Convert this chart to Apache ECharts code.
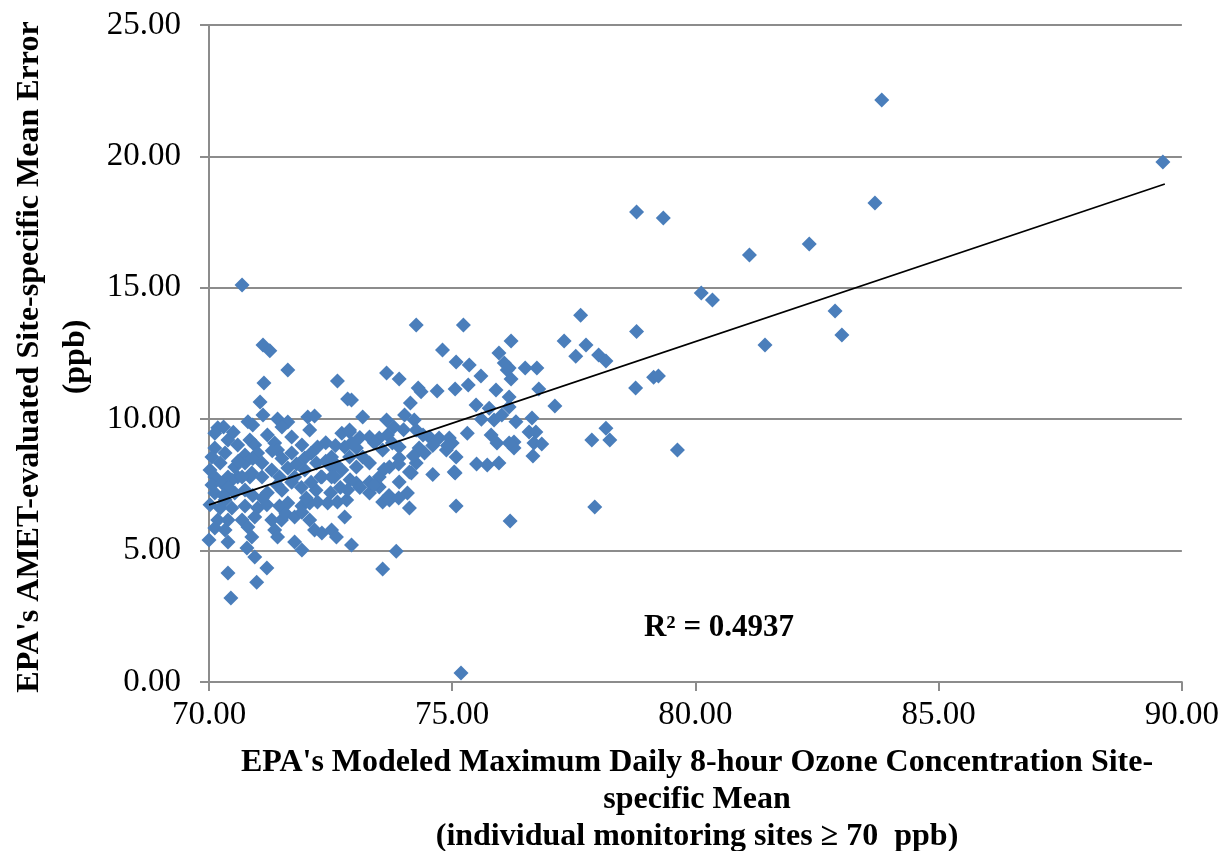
<!DOCTYPE html>
<html>
<head>
<meta charset="utf-8">
<script src="https://cdn.jsdelivr.net/npm/echarts@6/dist/echarts.min.js"></script>
<style>
  html, body { margin: 0; padding: 0; background: #fff; }
  #chart { width: 1222px; height: 851px; }
</style>
</head>
<body>
<div id="chart"></div>
<script>
// site-specific means: [modeled MDA8 ozone (ppb), AMET mean error (ppb)]
var outerSites = [
    [83.83, 22.15], [89.61, 19.79], [83.69, 18.23], [82.34, 16.67], [81.11, 16.25],
    [80.12, 14.80], [80.35, 14.54], [82.87, 14.12], [83.01, 13.20], [81.43, 12.82],
    [78.79, 17.88], [79.34, 17.66], [77.64, 13.96], [77.30, 12.98], [77.75, 12.82],
    [77.54, 12.40], [78.01, 12.44], [78.16, 12.21], [78.79, 13.34], [78.77, 11.19],
    [79.14, 11.60], [79.24, 11.64], [77.87, 9.21], [78.16, 9.66], [78.24, 9.21],
    [79.63, 8.83], [77.93, 6.66], [76.19, 6.13], [75.08, 6.70], [75.18, 0.34],
    [70.68, 15.11]
];
var midSites = [
    [76.21, 12.98], [76.50, 11.95], [76.74, 11.95], [76.17, 11.95], [76.21, 11.53],
    [76.78, 11.15], [77.11, 10.50], [76.17, 10.84], [76.17, 10.46], [76.64, 10.05],
    [76.31, 9.90], [76.58, 9.51], [76.72, 9.51], [76.27, 9.13], [76.27, 8.90],
    [76.68, 9.09], [76.84, 9.06], [76.66, 8.60],
    [74.26, 13.58], [75.23, 13.58], [74.80, 12.63], [75.96, 12.52], [75.08, 12.18],
    [75.35, 12.06], [76.07, 12.14], [76.13, 11.87], [73.65, 11.76], [73.91, 11.53],
    [75.59, 11.64], [74.30, 11.19], [74.36, 11.04], [74.69, 11.07], [75.06, 11.15],
    [75.33, 11.30], [75.90, 11.11], [74.14, 10.62], [75.49, 10.54], [75.76, 10.42],
    [72.93, 10.73], [73.16, 10.08], [73.65, 9.97], [74.02, 10.16], [74.22, 9.97],
    [75.86, 9.97], [76.02, 10.16], [74.26, 9.59], [75.31, 9.47], [72.89, 9.51],
    [73.30, 9.32], [73.50, 9.28], [73.67, 9.40], [73.77, 9.09], [73.91, 8.94],
    [74.53, 9.32], [74.73, 9.28], [74.94, 9.28], [75.00, 9.09], [75.92, 9.09],
    [76.17, 9.09], [73.03, 8.90], [73.16, 8.56], [74.32, 8.90], [74.43, 8.71],
    [74.88, 8.83], [75.08, 8.56], [73.57, 8.83], [73.91, 8.52], [75.72, 8.26],
    [75.96, 8.33], [73.30, 8.33], [73.71, 8.18], [74.26, 8.33], [74.12, 7.99],
    [75.04, 7.99], [72.89, 8.56], [73.03, 8.18], [75.06, 7.95], [72.93, 5.21],
    [73.85, 4.98], [73.57, 4.30], [74.12, 6.62], [74.08, 7.19], [73.57, 6.85],
    [73.71, 6.93], [73.03, 7.57], [73.30, 7.19], [73.50, 7.42], [73.91, 7.61],
    [74.16, 7.95], [73.30, 7.60], [73.50, 7.80], [72.90, 7.70], [73.10, 7.40],
    [73.40, 7.50], [73.70, 7.10], [73.90, 7.00], [73.60, 8.10], [73.90, 8.30],
    [74.20, 8.60], [74.60, 9.00], [74.40, 9.40], [74.00, 9.60], [73.80, 9.70],
    [73.40, 9.10], [73.10, 9.30], [74.60, 7.90], [74.90, 9.00], [75.50, 8.30],
    [75.80, 9.40], [75.60, 10.00]
];
var lowSites = [
    [71.11, 12.82], [71.25, 12.60], [71.62, 11.87], [71.13, 11.38], [72.64, 11.45],
    [72.85, 10.77], [71.05, 10.65], [71.11, 10.16], [70.90, 9.78], [70.18, 9.67],
    [70.12, 9.47], [71.41, 10.01], [71.62, 9.89], [72.03, 10.08], [72.17, 10.12],
    [72.07, 9.59], [71.70, 9.32], [70.39, 9.21], [70.59, 9.02], [70.84, 9.21],
    [70.94, 9.02], [71.35, 9.09], [71.41, 8.83], [71.91, 9.02], [72.73, 9.47],
    [72.89, 9.59], [70.12, 8.90], [70.06, 8.56], [70.33, 8.71], [70.74, 8.64],
    [71.00, 8.71], [71.70, 8.71], [71.97, 8.52], [72.23, 8.94], [72.52, 8.56],
    [72.79, 8.94], [72.93, 9.09], [70.02, 8.07], [70.23, 8.33], [70.53, 8.18],
    [70.74, 8.33], [71.09, 8.33], [71.29, 8.07], [71.62, 8.14], [71.97, 8.07],
    [72.21, 8.33], [72.52, 8.18], [72.73, 8.07], [70.12, 7.80], [70.39, 7.80],
    [70.59, 7.80], [70.84, 7.80], [71.09, 7.80], [71.45, 7.80], [71.76, 7.80],
    [72.30, 7.80], [72.52, 7.80], [70.06, 7.50], [70.27, 7.57], [70.47, 7.69],
    [70.68, 7.80], [70.88, 7.95], [70.12, 7.19], [70.33, 6.93], [70.53, 7.19],
    [70.74, 7.31], [70.02, 6.74], [70.23, 6.62], [70.47, 6.62], [70.74, 6.70],
    [71.00, 6.62], [71.19, 6.74], [71.45, 6.70], [71.62, 6.81], [71.91, 6.70],
    [72.07, 6.81], [72.23, 6.85], [72.44, 6.81], [72.64, 6.85], [72.83, 6.93],
    [72.32, 7.80], [72.58, 7.80], [72.85, 7.31], [70.18, 6.16], [70.39, 6.16],
    [70.68, 6.16], [70.94, 6.28], [71.29, 6.16], [71.49, 6.16], [71.58, 6.40],
    [71.76, 6.28], [71.91, 6.46], [72.07, 6.16], [72.79, 6.28], [70.12, 5.86],
    [70.33, 5.78], [70.80, 5.90], [71.35, 5.78], [71.41, 5.52], [70.88, 5.52],
    [70.00, 5.40], [70.39, 5.33], [72.17, 5.78], [72.32, 5.67], [72.52, 5.78],
    [72.62, 5.52], [71.76, 5.33], [71.91, 5.02], [70.78, 5.10], [70.94, 4.76],
    [70.39, 4.15], [71.19, 4.34], [70.98, 3.80], [70.45, 3.20],
    [72.70, 7.40], [72.50, 7.20], [72.20, 7.30], [71.90, 7.40], [71.50, 7.30],
    [71.20, 7.20], [70.90, 7.10], [71.70, 7.60], [72.00, 7.00], [71.10, 7.00],
    [71.40, 7.50], [72.10, 7.60], [72.40, 8.40], [72.60, 8.30], [71.80, 8.30],
    [71.50, 8.50], [70.90, 8.50], [70.60, 8.40], [70.40, 7.40], [70.30, 7.10],
    [72.60, 9.00], [72.40, 9.10], [72.10, 8.70], [71.30, 8.80], [71.20, 9.40],
    [70.50, 9.50], [70.30, 9.70], [70.80, 9.90], [71.50, 9.70]
];
// linear trend line as drawn in the original (start / end)
var trendX = [70.0, 89.65];
var trendY = [6.74, 18.95];
var rSquared = "0.4937";

var xTicks = [70, 75, 80, 85, 90];
var yTicks = [0, 5, 10, 15, 20, 25];

var sites = outerSites.concat(midSites, lowSites);
var trend = trendX.map(function (x, i) { return [x, trendY[i]]; });

var serif = "'Liberation Serif', 'Times New Roman', serif";
var gridColor = "#8c8c8c";

var myChart = echarts.init(document.getElementById("chart"));
var option = {
    animation: false,
    backgroundColor: "#fff",
    grid: { left: 209, right: 37, top: 25, bottom: 169 },
    xAxis: {
        type: "value",
        min: xTicks[0],
        max: xTicks[xTicks.length - 1],
        interval: 5,
        axisLine: { show: true, lineStyle: { color: gridColor, width: 2 } },
        axisTick: { show: true, inside: false, length: 9, lineStyle: { color: gridColor, width: 2 } },
        splitLine: { show: false },
        axisLabel: {
            margin: 17,
            color: "#000",
            fontFamily: serif,
            fontSize: 33,
            formatter: function (v) { return v.toFixed(2); }
        }
    },
    yAxis: {
        type: "value",
        min: yTicks[0],
        max: yTicks[yTicks.length - 1],
        interval: 5,
        axisLine: { show: true, lineStyle: { color: gridColor, width: 2 } },
        axisTick: { show: true, inside: false, length: 9, lineStyle: { color: gridColor, width: 2 } },
        splitLine: { show: true, lineStyle: { color: gridColor, width: 2 } },
        axisLabel: {
            margin: 28,
            color: "#000",
            fontFamily: serif,
            fontSize: 33,
            formatter: function (v) { return v.toFixed(2); }
        }
    },
    series: [
        {
            type: "scatter",
            data: sites,
            symbol: "diamond",
            symbolSize: 15,
            itemStyle: { color: "#4a7ebb", opacity: 1 },
            z: 2
        },
        {
            type: "line",
            data: trend,
            symbol: "none",
            lineStyle: { color: "#000", width: 1.8 },
            z: 3
        }
    ],
    graphic: [
        {
            type: "text",
            x: 53,
            y: 357,
            rotation: Math.PI / 2,
            style: {
                text: "EPA's AMET-evaluated Site-specific Mean Error\n(ppb)",
                font: "bold 32px " + serif,
                fill: "#000",
                textAlign: "center",
                textVerticalAlign: "middle",
                lineHeight: 46
            }
        },
        {
            type: "text",
            x: 697,
            y: 800,
            style: {
                text: "EPA's Modeled Maximum Daily 8-hour Ozone Concentration Site-\nspecific Mean\n(individual monitoring sites \u2265 70  ppb)",
                font: "bold 32px " + serif,
                fill: "#000",
                textAlign: "center",
                textVerticalAlign: "middle",
                lineHeight: 37
            }
        },
        {
            type: "text",
            x: 719,
            y: 628,
            style: {
                text: "R\u00b2 = " + rSquared,
                font: "bold 31px " + serif,
                fill: "#000",
                textAlign: "center",
                textVerticalAlign: "middle"
            }
        }
    ]
};
myChart.setOption(option);
</script>
</body>
</html>
